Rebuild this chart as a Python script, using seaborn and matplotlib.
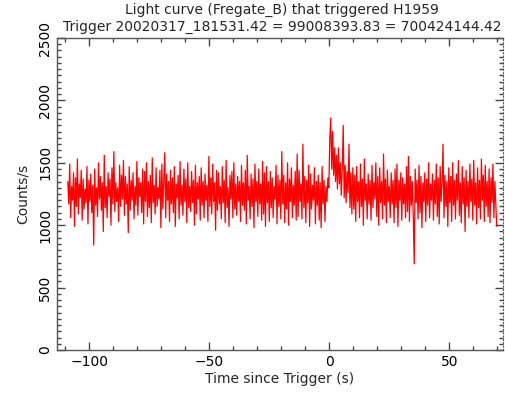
import numpy as np
import pandas as pd
import matplotlib
matplotlib.use("Agg")
import matplotlib.pyplot as plt
import seaborn as sns
from matplotlib.ticker import MultipleLocator

# light curve, 0.4 s bins starting at -109 s
t_start = -109.0
bin_size = 0.4
counts = [
    1350, 1170, 1490, 1060, 1310, 1200, 1420, 990, 1380, 1150, 1530, 1090, 1330, 1220, 1440, 1040, 1370, 1130, 1290, 1180,
    1470, 1010, 1360, 1190, 1410, 1100, 1320, 840, 1450, 1160, 1300, 1070, 1500, 1210, 1390, 1120, 1340, 950, 1560, 1140,
    1310, 1060, 1420, 1230, 1370, 1000, 1460, 1170, 1590, 1110, 1340, 1190, 1300, 1030, 1480, 1150, 1400, 1210, 1520, 1080,
    1390, 1170, 1330, 940, 1470, 1120, 1360, 1200, 1420, 1050, 1310, 1160, 1510, 1080, 1380, 1230, 1340, 1100, 1450, 1010,
    1430, 1190, 1500, 1070, 1350, 1140, 1400, 1020, 1540, 1180, 1320, 1090, 1460, 1150, 1300, 1210, 1440, 980, 1490, 1130,
    1360, 1580, 1060, 1410, 1200, 1350, 1030, 1440, 1170, 1380, 1100, 1470, 990, 1330, 1220, 1400, 1050, 1510, 1160, 1320,
    1080, 1450, 1190, 1370, 1020, 1500, 1140, 1310, 1110, 1430, 1180, 1360, 1000, 1480, 1090, 1340, 1210, 1390, 1040, 1460,
    1160, 1350, 1060, 1410, 1200, 1320, 1030, 1550, 1150, 1380, 1090, 1490, 1190, 1340, 960, 1440, 1120, 1420, 1170, 1310,
    1050, 1470, 1180, 1360, 1020, 1520, 1140, 1300, 990, 1400, 1210, 1430, 1060, 1500, 1130, 1330, 1080, 1390, 1190, 1350,
    1030, 1480, 1160, 1340, 1120, 1440, 1010, 1560, 1200, 1310, 1050, 1410, 1150, 1370, 980, 1490, 1190, 1350, 1070, 1450,
    1170, 1330, 1040, 1510, 1090, 1420, 990, 1470, 1180, 1350, 1030, 1430, 1140, 1380, 1060, 1310, 1210, 1480, 1010, 1400,
    1150, 1360, 1050, 1590, 1170, 1400, 1020, 1340, 1130, 1500, 1000, 1370, 1190, 1460, 1060, 1320, 1160, 1430, 1040, 1570,
    1070, 1440, 1190, 1330, 1050, 1650, 1140, 1390, 1020, 1360, 1180, 1480, 990, 1410, 1130, 1320, 1200, 1460, 1010, 1350,
    1160, 1400, 1040, 1340, 980, 1470, 1170, 1360, 1030, 1310, 1190, 1380, 1300, 1690, 1860, 1450, 1750, 1400, 1620, 1350,
    1560, 1290, 1620, 1330, 1500, 1240, 1450, 1800, 1220, 1480, 1180, 1430, 1260, 1650, 1140, 1420, 1090, 1460, 1130, 1400,
    1030, 1470, 1190, 1350, 1060, 1490, 1150, 1370, 1000, 1530, 1200, 1330, 1050, 1410, 1170, 1360, 1040, 1480, 1140, 1340,
    1210, 1500, 1070, 1390, 1000, 1460, 1180, 1350, 1050, 1570, 1160, 1370, 1020, 1440, 1190, 1310, 1060, 1420, 1170, 1360,
    1020, 1450, 1140, 1490, 990, 1360, 1200, 1420, 1040, 1380, 1170, 1330, 1060, 1470, 1110, 1550, 1030, 1390, 1160, 1350,
    1070, 690, 1450, 1180, 1360, 1050, 1480, 1100, 1390, 980, 1340, 1190, 1420, 1030, 1370, 1160, 1500, 1060, 1330, 1200,
    1410, 1040, 1360, 1170, 1490, 1070, 1380, 1010, 1470, 1190, 1340, 1650, 1060, 1400, 1150, 1350, 990, 1460, 1180, 1390,
    1030, 1500, 1160, 1360, 1050, 1410, 1200, 1520, 1080, 1340, 1020, 1470, 1170, 1380, 950, 1440, 1150, 1350, 1060, 1490,
    1190, 1370, 1040, 1520, 1160, 1340, 1010, 1460, 1140, 1360, 1050, 1530, 1200, 1400, 1030, 1480, 1150, 1350, 1070, 1450,
    1020, 1380, 1180, 1490, 1060, 1350, 1160, 990,
]
time = t_start + bin_size * np.arange(len(counts))

df = pd.DataFrame({"time": time, "counts": counts})

sns.set_style("ticks")
plt.rcParams["font.family"] = ["DejaVu Sans"]

fig = plt.figure(figsize=(5.05, 3.93), dpi=100)
ax = fig.add_axes([57 / 505, 1 - 350 / 393, 446 / 505, 312 / 393])

sns.lineplot(data=df, x="time", y="counts", ax=ax, color="#ff0000",
             linewidth=0.9, estimator=None, sort=False)

ax.set_xlim(-113.5, 72.4)
ax.set_ylim(0, 2500)
ax.xaxis.set_major_locator(MultipleLocator(50))
ax.xaxis.set_minor_locator(MultipleLocator(10))
ax.yaxis.set_major_locator(MultipleLocator(500))
ax.yaxis.set_minor_locator(MultipleLocator(50))

ax.tick_params(which="both", direction="in", top=True, right=True,
               colors="#444444", labelcolor="black", labelsize=10, width=1)
ax.tick_params(which="major", length=6)
ax.tick_params(which="minor", length=3)
for lab in ax.get_yticklabels():
    lab.set_rotation(90)
    lab.set_va("center")

for side in ["left", "bottom", "top"]:
    ax.spines[side].set_color("#555555")
    ax.spines[side].set_linewidth(1)
ax.spines["right"].set_color("#555555")
ax.spines["right"].set_linestyle((0, (1, 2)))

ax.set_xlabel("Time since Trigger (s)", fontsize=10, labelpad=2)
ax.set_ylabel("Counts/s", fontsize=10, labelpad=6)

fig.text(282 / 505, 1 - 10 / 393, "Light curve (Fregate_B) that triggered H1959",
         ha="center", va="center", fontsize=10)
fig.text(282 / 505, 1 - 27 / 393, "Trigger 20020317_181531.42 = 99008393.83 = 700424144.42",
         ha="center", va="center", fontsize=10)

fig.savefig("out.png", dpi=100)
